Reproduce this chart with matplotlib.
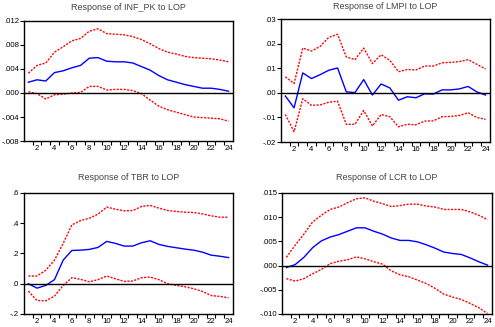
import numpy as np
import matplotlib
matplotlib.use('Agg')
import matplotlib.pyplot as plt
from matplotlib.ticker import FuncFormatter, FixedLocator

plt.rcParams['font.family'] = ['Liberation Sans', 'DejaVu Sans']

periods = np.arange(1, 25)

# Response of INF_PK to LOP
inf_mid = [.0018, .0022, .0020, .0034, .0037, .0042, .0046, .0058, .0059, .0053, .0052, .0052,
           .0050, .0044, .0038, .0029, .0022, .0018, .0014, .0011, .0008, .0008, .0006, .0003]
inf_up = [.0033, .0046, .0050, .0068, .0077, .0087, .0091, .0103, .0107, .0099, .0098, .0097,
          .0094, .0089, .0082, .0074, .0068, .0065, .0061, .0059, .0058, .0057, .0055, .0052]
inf_lo = [.0002, -.0001, -.0010, -.0003, -.0002, .0000, .0001, .0011, .0011, .0005, .0006, .0006,
          .0004, -.0001, -.0012, -.0022, -.0028, -.0032, -.0036, -.0040, -.0041, -.0042, -.0043, -.0047]

# Response of LMPI to LOP
lmpi_mid = [-.0013, -.0061, .0081, .0058, .0074, .0092, .0101, .0004, .0001, .0054, -.0009, .0036,
            .0020, -.0030, -.0016, -.0020, -.0004, -.0005, .0012, .0012, .0016, .0026, .0004, -.0009]
lmpi_up = [.0065, .0038, .0182, .0170, .0189, .0226, .0238, .0146, .0135, .0182, .0119, .0155,
           .0132, .0086, .0095, .0093, .0109, .0109, .0122, .0124, .0127, .0135, .0116, .0097]
lmpi_lo = [-.0088, -.0158, -.0024, -.0051, -.0049, -.0038, -.0034, -.0128, -.0128, -.0072, -.0135, -.0088,
           -.0097, -.0138, -.0128, -.0130, -.0115, -.0114, -.0097, -.0096, -.0092, -.0081, -.0100, -.0108]

# Response of TBR to LOP
tbr_mid = [.000, -.029, -.011, .027, .156, .220, .222, .227, .240, .280, .267, .249,
           .249, .271, .284, .260, .247, .238, .229, .222, .209, .189, .182, .173]
tbr_up = [.051, .051, .089, .156, .267, .389, .418, .433, .460, .507, .493, .482,
          .484, .511, .518, .500, .484, .478, .473, .471, .462, .449, .440, .440]
tbr_lo = [-.049, -.111, -.113, -.082, -.011, .040, .029, .013, .027, .051, .033, .016,
          .018, .040, .044, .027, .000, -.011, -.020, -.033, -.051, -.078, -.084, -.093]

# Response of LCR to LOP
lcr_mid = [-.0004, .0002, .0017, .0037, .0051, .0059, .0064, .0071, .0078, .0078, .0071, .0065,
           .0057, .0052, .0052, .0049, .0043, .0036, .0028, .0025, .0023, .0016, .0008, .0001]
lcr_up = [.0017, .0042, .0065, .0090, .0104, .0116, .0121, .0130, .0138, .0140, .0133, .0128,
          .0122, .0124, .0127, .0127, .0123, .0121, .0116, .0116, .0116, .0111, .0104, .0095]
lcr_lo = [-.0027, -.0032, -.0027, -.0017, -.0008, .0004, .0009, .0012, .0018, .0014, .0008, .0003,
          -.0011, -.0019, -.0023, -.0030, -.0037, -.0047, -.0059, -.0065, -.0070, -.0078, -.0087, -.0099]

# title, series, y ticks, decimals, axes rect, title pad
panels = [
    ('Response of INF_PK to LOP', inf_mid, inf_up, inf_lo, [-.008, -.004, 0, .004, .008, .012], 3,
     [0.0485, 0.5688, 0.422, 0.367], 8),
    ('Response of LMPI to LOP', lmpi_mid, lmpi_up, lmpi_lo, [-.02, -.01, 0, .01, .02, .03], 2,
     [0.5677, 0.5657, 0.422, 0.376], 7),
    ('Response of TBR to LOP', tbr_mid, tbr_up, tbr_lo, [-.2, 0, .2, .4, .6], 1,
     [0.0485, 0.0398, 0.422, 0.370], 9.5),
    ('Response of LCR to LOP', lcr_mid, lcr_up, lcr_lo, [-.010, -.005, 0, .005, .010, .015], 3,
     [0.5697, 0.0398, 0.424, 0.370], 9.5),
]


def make_fmt(dec):
    def f(v, pos):
        s = f'{v:.{dec}f}'
        s = s.replace('0.', '.', 1)
        if s.startswith('-') and float(s) == 0:
            s = s[1:]
        return s
    return f


fig = plt.figure(figsize=(4.95, 3.27), dpi=100)

for title, mid, up, lo, yt, dec, rect, tpad in panels:
    ax = fig.add_axes(rect)
    ax.plot(periods, up, color='red', lw=1.0, dashes=(1.5, 1.0))
    ax.plot(periods, lo, color='red', lw=1.0, dashes=(1.5, 1.0))
    ax.plot(periods, mid, color='blue', lw=1.0)
    ax.axhline(0, color='black', lw=1.0)
    ax.set_xlim(0.5, 24.5)
    ax.set_ylim(yt[0], yt[-1])
    ax.set_yticks(yt)
    ax.yaxis.set_major_formatter(FuncFormatter(make_fmt(dec)))
    ax.set_xticks(np.arange(2, 25, 2))
    ax.xaxis.set_minor_locator(FixedLocator(np.arange(1.5, 24.5, 1)))
    ax.tick_params(axis='x', which='major', length=0, labelsize=5.6, pad=3)
    ax.tick_params(axis='x', which='minor', length=3, width=0.8, direction='out')
    ax.tick_params(axis='y', length=3, width=0.8, labelsize=5.6, pad=0.5)
    for sp in ax.spines.values():
        sp.set_linewidth(1.0)
    ax.set_title(title, fontsize=6.5, color='#444444', pad=tpad)

fig.savefig('out.png', dpi=100)
